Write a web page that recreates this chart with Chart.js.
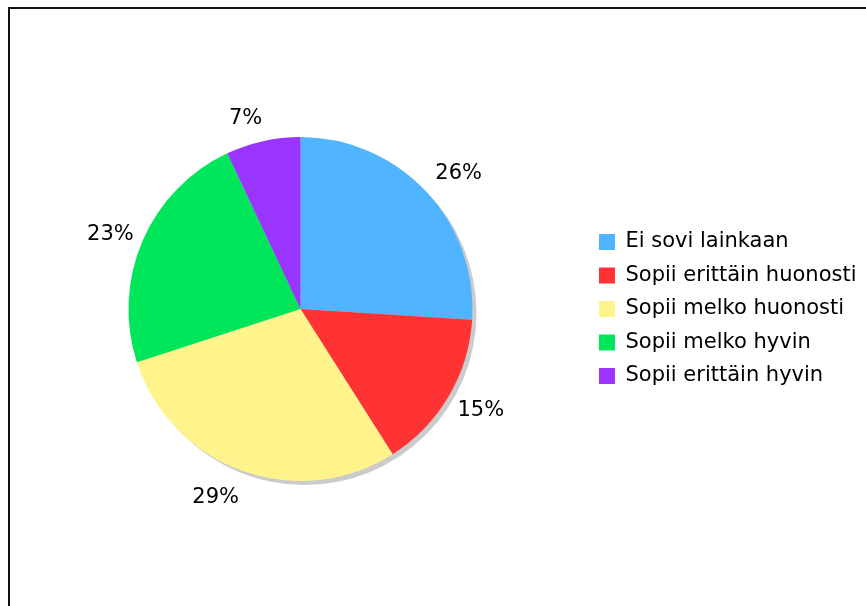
<!DOCTYPE html>
<html>
<head>
<meta charset="utf-8">
<script src="https://cdn.jsdelivr.net/npm/chart.js@4"></script>
<style>
  html, body { margin: 0; padding: 0; background: #fff; overflow: hidden; }
  #frame { position: absolute; left: 8px; top: 7px; width: 900px; height: 700px; border: 2px solid #111; box-sizing: border-box; }
  #wrap { position: absolute; left: 0; top: 0; width: 900px; height: 606px; }
</style>
</head>
<body>
<div id="frame"></div>
<div id="wrap"><canvas id="pieChart" width="900" height="606"></canvas></div>
<script>
const labels = ['Ei sovi lainkaan', 'Sopii erittäin huonosti', 'Sopii melko huonosti', 'Sopii melko hyvin', 'Sopii erittäin hyvin'];
const values = [26, 15, 29, 23, 7];
const colors = ['#50b4ff', '#ff3333', '#fff38c', '#00e65a', '#9a35ff'];

const FONT = '"DejaVu Sans", Verdana, sans-serif';

// grey drop shadow behind the pie
const shadowPlugin = {
  id: 'pieShadow',
  beforeDatasetsDraw(chart) {
    const arc = chart.getDatasetMeta(0).data[0];
    if (!arc) return;
    const { ctx } = chart;
    ctx.save();
    ctx.fillStyle = '#cbcbcb';
    ctx.beginPath();
    ctx.arc(arc.x + 4, arc.y + 4, arc.outerRadius, 0, Math.PI * 2);
    ctx.fill();
    ctx.restore();
  }
};

// percent labels outside each slice
const outsideLabels = {
  id: 'outsideLabels',
  afterDatasetsDraw(chart, args, opts) {
    const { ctx } = chart;
    const total = values.reduce((a, b) => a + b, 0);
    const nudge = opts.nudge || [];
    ctx.save();
    ctx.font = '21px ' + FONT;
    ctx.fillStyle = '#000';
    ctx.textAlign = 'center';
    ctx.textBaseline = 'middle';
    chart.getDatasetMeta(0).data.forEach((arc, i) => {
      const mid = (arc.startAngle + arc.endAngle) / 2;
      const r = arc.outerRadius + 34;
      const [nx, ny] = nudge[i] || [0, 0];
      const x = arc.x + Math.cos(mid) * r + nx;
      const y = arc.y + Math.sin(mid) * r + ny;
      ctx.fillText(Math.round(values[i] / total * 100) + '%', x, y);
    });
    ctx.restore();
  }
};

new Chart(document.getElementById('pieChart'), {
  type: 'pie',
  data: {
    labels: labels,
    datasets: [{
      data: values,
      backgroundColor: colors,
      borderWidth: 0,
      hoverOffset: 0
    }]
  },
  options: {
    responsive: false,
    animation: false,
    layout: { padding: { top: 137, bottom: 125, left: 14.5, right: 33.5 } },
    plugins: {
      tooltip: { enabled: false },
      outsideLabels: { nudge: [[8, 6], [3, -3], [-15, -5], [-1, 7], [-10, 11]] },
      legend: {
        position: 'right',
        labels: {
          boxWidth: 16,
          boxHeight: 16,
          padding: 12.5,
          color: '#000',
          font: { family: FONT, size: 21 }
        }
      }
    }
  },
  plugins: [shadowPlugin, outsideLabels]
});
</script>
</body>
</html>
